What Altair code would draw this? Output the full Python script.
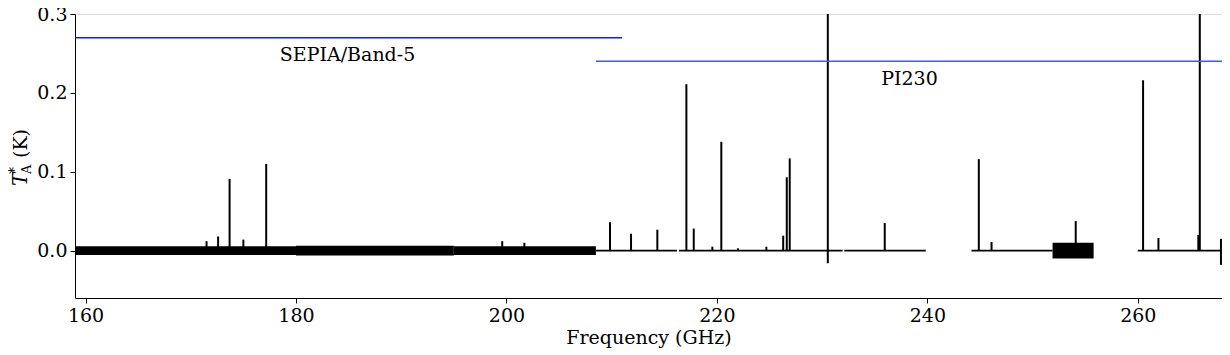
import altair as alt
import pandas as pd

# ---- spectral lines (frequency GHz, lower end K, peak K) ----
line_freq = [171.5, 172.6, 173.69, 175.0, 177.17, 199.6, 201.7,
             209.84, 211.84, 214.34, 217.1, 217.8, 219.57, 220.42, 222.0,
             224.7, 226.3, 226.64, 226.92, 230.54, 235.95, 244.89, 246.1,
             254.1, 260.5, 261.96, 265.75, 265.89, 267.9]
line_low = [0, 0, 0, 0, 0, 0, 0,
            0, 0, 0, 0, 0, 0, 0, 0,
            0, 0, 0, 0, -0.016, 0, 0, 0,
            0, 0, 0, 0, 0, -0.018]
line_peak = [0.012, 0.018, 0.091, 0.014, 0.110, 0.012, 0.010,
             0.036, 0.0215, 0.0266, 0.211, 0.028, 0.005, 0.138, 0.003,
             0.005, 0.019, 0.093, 0.117, 0.5, 0.035, 0.116, 0.011,
             0.0375, 0.216, 0.016, 0.02, 0.5, 0.015]

# ---- baseline noise envelope per frequency segment (K) ----
noise_start = [159.0, 180.0, 195.0, 208.5, 216.4, 232.1, 244.2, 251.9, 260.0]
noise_end = [180.0, 195.0, 208.5, 216.2, 231.95, 239.85, 251.9, 255.8, 268.0]
noise_amp = [0.0055, 0.0062, 0.0055, 0.0012, 0.0012, 0.0012, 0.0012, 0.0100, 0.0012]

# ---- receiver band coverage ----
band_name = ["SEPIA/Band-5", "PI230"]
band_start = [159.0, 208.5]
band_end = [211.0, 268.0]
band_level = [0.27, 0.24]
label_x = [184.9, 238.3]
label_y = [0.248, 0.218]

FONT = "DejaVu Serif"
XDOM = [159, 268]
YDOM = [-0.06, 0.3]

lines_df = pd.DataFrame({"freq": line_freq, "low": line_low, "peak": line_peak})
noise_df = pd.DataFrame({"start": noise_start, "end": noise_end,
                         "lo": [-a for a in noise_amp], "hi": noise_amp})
band_df = pd.DataFrame({"name": band_name, "start": band_start, "end": band_end,
                        "level": band_level, "lx": label_x, "ly": label_y})

xscale = alt.Scale(domain=XDOM, nice=False, zero=False)
yscale = alt.Scale(domain=YDOM, nice=False, zero=False)

xaxis = alt.Axis(values=[160, 180, 200, 220, 240, 260], format="d", grid=False,
                 title="Frequency (GHz)", titleFont=FONT, titleFontSize=19,
                 titleFontWeight="normal", titleColor="black", titlePadding=3,
                 labelFont=FONT, labelFontSize=19, labelColor="black",
                 tickColor="black", domainColor="black", tickSize=5, labelPadding=3)
yaxis = alt.Axis(values=[0.0, 0.1, 0.2, 0.3], format=".1f", grid=False,
                 labelFont=FONT, labelFontSize=19, labelColor="black",
                 tickColor="black", domainColor="black", tickSize=5, labelPadding=3)

noise = alt.Chart(noise_df).mark_rect(color="black", clip=True).encode(
    x=alt.X("start:Q", scale=xscale, axis=xaxis),
    x2="end:Q",
    y=alt.Y("lo:Q", scale=yscale, axis=yaxis, title=None),
    y2="hi:Q",
)

spikes = alt.Chart(lines_df).mark_rule(color="black", strokeWidth=2, clip=True).encode(
    x="freq:Q",
    y="low:Q",
    y2="peak:Q",
)

bands = alt.Chart(band_df).mark_rule(strokeWidth=1.5, clip=True).encode(
    x="start:Q",
    x2="end:Q",
    y="level:Q",
    color=alt.Color("name:N", scale=alt.Scale(domain=band_name, range=["#0a1eff", "#3a5cf5"]),
                    legend=None),
)

labels = alt.Chart(band_df).mark_text(font=FONT, fontSize=19, color="black",
                                      align="center", baseline="middle").encode(
    x="lx:Q",
    y="ly:Q",
    text="name:N",
)

one = pd.DataFrame({"k": [0]})
yt_T = alt.Chart(one).mark_text(text="T", font=FONT, fontSize=20, fontStyle="italic",
                                angle=270, align="left", baseline="alphabetic",
                                color="black").encode(x=alt.value(-48), y=alt.value(172))
yt_star = alt.Chart(one).mark_text(text="*", font=FONT, fontSize=14,
                                   angle=270, align="left", baseline="alphabetic",
                                   color="black").encode(x=alt.value(-56), y=alt.value(160))
yt_A = alt.Chart(one).mark_text(text="A", font=FONT, fontSize=13,
                                angle=270, align="left", baseline="alphabetic",
                                color="black").encode(x=alt.value(-44), y=alt.value(160))
yt_K = alt.Chart(one).mark_text(text="(K)", font=FONT, fontSize=19,
                                angle=270, align="left", baseline="alphabetic",
                                color="black").encode(x=alt.value(-48), y=alt.value(144))

chart = alt.layer(noise, spikes, bands, labels, yt_T, yt_star, yt_A, yt_K).properties(
    width=1147, height=284,
    autosize=alt.AutoSizeParams(type="none"),
    padding={"left": 67, "top": 6, "right": 0, "bottom": 55},
).configure_view(stroke="black", strokeWidth=1).configure(background="white")

chart.save("out.html", embed_options={"renderer": "svg", "actions": False})
